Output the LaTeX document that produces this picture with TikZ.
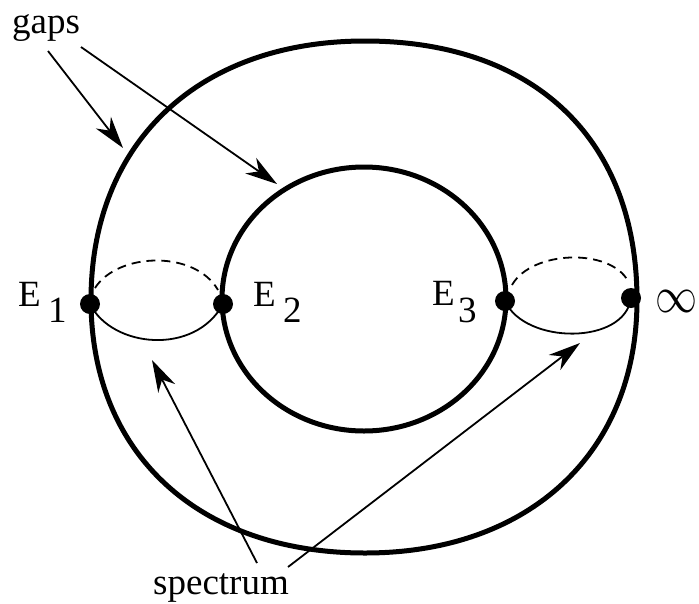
\documentclass[tikz,border=0pt]{standalone}
\usepackage{fontspec}
\usepackage{graphicx}
\setmainfont{Liberation Serif}
\usetikzlibrary{arrows.meta}
\begin{document}
\begin{tikzpicture}[x=1pt,y=-1pt,
  thickline/.style={line width=5pt},
  thinline/.style={line width=1.8pt},
  dashline/.style={line width=1.8pt, dash pattern=on 9pt off 6pt},
  arr/.style={line width=1.8pt, -{Stealth[length=32pt,width=19pt,inset=10pt]}},
  lbl/.style={font=\fontsize{37}{40}\selectfont, inner sep=0pt, anchor=base west},
  dot/.style={circle, fill=black, inner sep=0pt, minimum size=20pt}]
\useasboundingbox (0,0) rectangle (699,603);
% outer curve
\coordinate (oL) at (91,300);
\coordinate (oT) at (365,41);
\coordinate (oR) at (637,300);
\coordinate (oB) at (365,553);
\draw[thickline] (oL) .. controls (91,143) and (198,41) .. (oT)
  .. controls (534,41) and (637,139) .. (oR)
  .. controls (637,452) and (530,553) .. (oB)
  .. controls (200,553) and (91,455) .. cycle;
% inner curve
\draw[thickline] (364,299) ellipse [x radius=142, y radius=132];
% points
\node[dot] (e1) at (90,304) {};
\node[dot] (e2) at (223,304) {};
\node[dot] (e3) at (505,301) {};
\node[dot] (inf) at (631,298) {};
% spectrum arcs
\draw[thinline] (e1.center) .. controls (112,348) and (195,356) .. (e2.center);
\draw[thinline] (e3.center) .. controls (525,345) and (625,345) .. (inf.center);
% gap arcs
\coordinate (d1a) at (95,288);
\coordinate (d1b) at (218,290);
\coordinate (d3a) at (512,285);
\coordinate (d3b) at (628,281);
\draw[dashline] (d1a) .. controls (118,252) and (195,250) .. (d1b);
\draw[dashline] (d3a) .. controls (532,250) and (610,248) .. (d3b);
% labels
\node[lbl] (E1) at (18,306) {E};
\node[lbl] (E1s) at (48,322) {1};
\node[lbl] (E2) at (253,306) {E};
\node[lbl] (E2s) at (283,322) {2};
\node[lbl] (E3) at (432,305) {E};
\node[lbl] (E3s) at (458,322) {3};
\node[inner sep=0pt] (infl) at (676,301) {\resizebox{42pt}{22pt}{$\infty$}};
\node[lbl] (gaps) at (12,33) {gaps};
\node[lbl] (spec) at (153,594) {spectrum};
% arrows
\coordinate (ga) at (48,51);
\coordinate (gb) at (81,47);
\coordinate (ta) at (123,148);
\coordinate (tb) at (277,184);
\draw[arr] (ga) -- (ta);
\draw[arr] (gb) -- (tb);
\coordinate (sa) at (257,563);
\coordinate (sb) at (288,567);
\coordinate (ua) at (152,360);
\coordinate (ub) at (580,343);
\draw[arr] (sa) -- (ua);
\draw[arr] (sb) -- (ub);
\end{tikzpicture}
\end{document}
